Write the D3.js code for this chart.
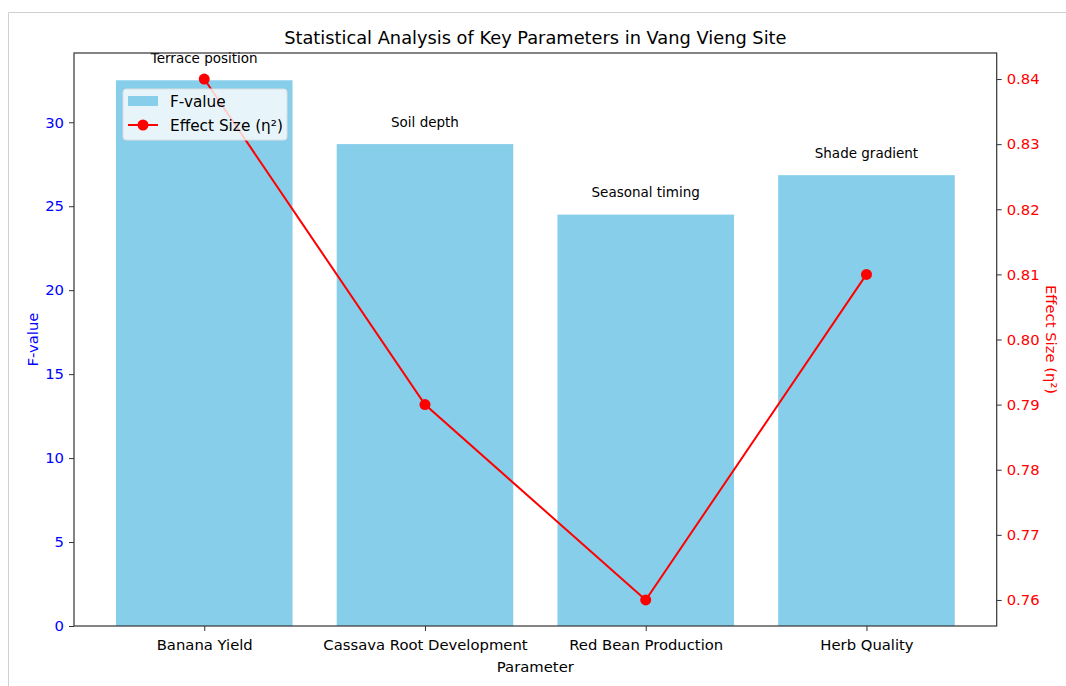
<!DOCTYPE html>
<html>
<head>
<meta charset="utf-8">
<script src="https://cdn.jsdelivr.net/npm/d3@7"></script>
<style>
    body { margin: 0; background: #fff; }
    svg text { font-family: "DejaVu Sans", sans-serif; }
</style>
</head>
<body>
<svg id="chart_svg" width="1066" height="686"></svg>
<script>
// chart data
const g_params = ["Banana Yield", "Cassava Root Development", "Red Bean Production", "Herb Quality"];
const g_fvalue = [32.5, 28.7, 24.5, 26.85];
const g_effect = [0.84, 0.79, 0.76, 0.81];
const g_notes = ["Terrace position", "Soil depth", "Seasonal timing", "Shade gradient"];
const g_left_ticks = [0, 5, 10, 15, 20, 25, 30];
const g_right_ticks = [0.76, 0.77, 0.78, 0.79, 0.80, 0.81, 0.82, 0.83, 0.84];

var svg = d3.select("#chart_svg");

// screenshot frame
svg.append("path").attr("d", "M8.5,686 L8.5,12.5 L1066,12.5")
    .attr("style", "stroke:#d0d0d0; stroke-width:1; fill:none");

// plot area
var pl = 74, pr = 996.7, pt = 53, pb = 626;

// scales
var x_idx = d3.scaleLinear().domain([-0.59, 3.59]).range([pl, pr]); // category index to pixel
var y_f = d3.scaleLinear().domain([0, 32.5 * 1.05]).range([pb, pt]);
var y_e = d3.scaleLinear().domain([0.756, 0.844]).range([pb, pt]);

// bars
svg.selectAll(".bar").data(g_fvalue).join("rect").classed("bar", true)
    .attr("x", (d, i) => x_idx(i - 0.4))
    .attr("width", x_idx(0.4) - x_idx(-0.4))
    .attr("y", d => y_f(d))
    .attr("height", d => pb - y_f(d))
    .attr("fill", "#87ceeb");

// annotations above bars
svg.selectAll(".note").data(g_notes).join("text").classed("note", true)
    .attr("x", (d, i) => x_idx(i))
    .attr("y", (d, i) => y_f(g_fvalue[i] + 1))
    .attr("text-anchor", "middle")
    .attr("dy", "-0.05em")
    .style("font-size", "13.5px").style("fill", "#000")
    .text(d => d);

// effect size line
var line = d3.line().x((d, i) => x_idx(i)).y(d => y_e(d));
svg.append("path").datum(g_effect).attr("d", line)
    .attr("style", "stroke:red; stroke-width:2; fill:none");
svg.selectAll(".dot").data(g_effect).join("circle").classed("dot", true)
    .attr("cx", (d, i) => x_idx(i)).attr("cy", d => y_e(d))
    .attr("r", 5.5).attr("fill", "red");

// axes
var ax_left = svg.append("g").attr("transform", "translate(" + pl + ",0)")
    .call(d3.axisLeft(y_f).tickValues(g_left_ticks).tickSize(5).tickPadding(5).tickFormat(d3.format("d")));
var ax_right = svg.append("g").attr("transform", "translate(" + pr + ",0)")
    .call(d3.axisRight(y_e).tickValues(g_right_ticks).tickSize(5).tickPadding(5).tickFormat(d3.format(".2f")));
var ax_bottom = svg.append("g").attr("transform", "translate(0," + pb + ")")
    .call(d3.axisBottom(x_idx).tickValues(d3.range(g_params.length)).tickSize(5).tickPadding(8).tickFormat(i => g_params[i]));
[ax_left, ax_right, ax_bottom].forEach(function (ax) {
    ax.select(".domain").remove();
    ax.selectAll("line").attr("stroke", "#333");
    ax.selectAll("text").style("font-size", "14.8px").style("font-family", "DejaVu Sans, sans-serif");
});
ax_left.selectAll("text").attr("fill", "blue");
ax_right.selectAll("text").attr("fill", "red");
ax_bottom.selectAll("text").attr("fill", "#000");

// frame of the plot
svg.append("rect").attr("x", pl).attr("y", pt).attr("width", pr - pl).attr("height", pb - pt)
    .attr("style", "stroke:#333; stroke-width:1.2; fill:none");

// legend
var lg = svg.append("g").attr("transform", "translate(123,89)");
lg.append("rect").attr("width", 164).attr("height", 51).attr("rx", 3)
    .attr("style", "fill:white; fill-opacity:0.8; stroke:#ddd; stroke-width:1");
lg.append("rect").attr("x", 5).attr("y", 7).attr("width", 30).attr("height", 10).attr("fill", "#87ceeb");
lg.append("text").attr("x", 47).attr("y", 18).style("font-size", "15.3px").text("F-value");
lg.append("line").attr("x1", 5).attr("x2", 35).attr("y1", 36).attr("y2", 36)
    .attr("style", "stroke:red; stroke-width:2");
lg.append("circle").attr("cx", 20).attr("cy", 36).attr("r", 5.5).attr("fill", "red");
lg.append("text").attr("x", 47).attr("y", 42).style("font-size", "15.3px").text("Effect Size (η²)");

// titles
svg.append("text").attr("x", (pl + pr) / 2).attr("y", 44).attr("text-anchor", "middle")
    .style("font-size", "17.8px").text("Statistical Analysis of Key Parameters in Vang Vieng Site");
svg.append("text").attr("x", (pl + pr) / 2).attr("y", 672).attr("text-anchor", "middle")
    .style("font-size", "14.8px").text("Parameter");
svg.append("text").attr("transform", "translate(38," + (pt + pb) / 2 + ") rotate(-90)")
    .attr("text-anchor", "middle").style("font-size", "14.8px").attr("fill", "blue").text("F-value");
svg.append("text").attr("transform", "translate(1046," + (pt + pb) / 2 + ") rotate(90)")
    .attr("text-anchor", "middle").style("font-size", "14.8px").attr("fill", "red").text("Effect Size (η²)");
</script>
</body>
</html>
